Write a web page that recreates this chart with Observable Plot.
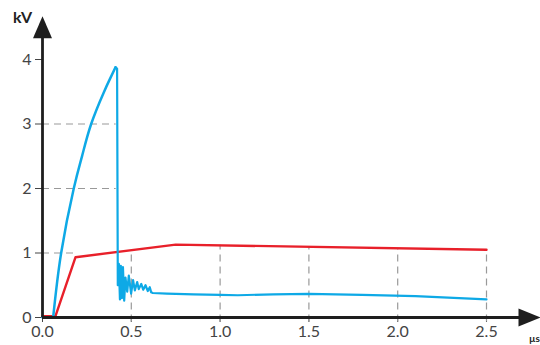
<!DOCTYPE html>
<html>
<head>
<meta charset="utf-8">
<script src="https://cdn.jsdelivr.net/npm/d3@7"></script>
<script src="https://cdn.jsdelivr.net/npm/@observablehq/plot@0.6"></script>
<style>
  html, body { margin: 0; padding: 0; background: #fff; }
</style>
</head>
<body>
<div id="chart"></div>
<script>
// Blue trace, flat start (kV vs µs)
const blueFlatX = [0, 0.06];
const blueFlatY = [0, 0];
// Blue trace, rising part
const blueRiseX = [0.06, 0.105, 0.176, 0.2235, 0.274, 0.345, 0.38, 0.411];
const blueRiseY = [0, 1.0, 2.0, 2.51, 3.0, 3.49, 3.7, 3.88];
// Blue trace, drop, ringing and tail
const blueTailX = [0.411, 0.42, 0.424, 0.43, 0.436, 0.441, 0.447, 0.453, 0.46, 0.467, 0.477, 0.486, 0.499, 0.51, 0.52, 0.533, 0.542, 0.556, 0.567, 0.58, 0.593, 0.604, 0.612, 0.621, 0.7, 0.85, 1.0, 1.1, 1.3, 1.5, 1.8, 2.1, 2.5];
const blueTailY = [3.88, 3.86, 0.5, 0.83, 0.28, 0.8, 0.3, 0.78, 0.26, 0.62, 0.4, 0.65, 0.37, 0.58, 0.42, 0.55, 0.44, 0.52, 0.43, 0.5, 0.41, 0.47, 0.39, 0.38, 0.37, 0.36, 0.35, 0.345, 0.36, 0.365, 0.35, 0.33, 0.28];
// Red trace
const redX = [0, 0.073, 0.186, 0.75, 2.5];
const redY = [0.02, 0.02, 0.935, 1.13, 1.05];
// Ticks
const xTicks = [0, 0.5, 1.0, 1.5, 2.0, 2.5];
const yTicks = [0, 1, 2, 3, 4];
// Dashed guide lines
const hGridY = [1, 2, 3];
const hGridEnd = [0.19, 0.415, 0.415];
const vGridX = [0.5, 1.0, 1.5, 2.0, 2.5];
const vGridTop = [1.04, 1.12, 1.1, 1.07, 1.05];

const toRows = (xs, ys) => xs.map((x, i) => ({x, y: ys[i]}));
const blueFlat = toRows(blueFlatX, blueFlatY);
const blueRise = toRows(blueRiseX, blueRiseY);
const blueTail = toRows(blueTailX, blueTailY);
const red = toRows(redX, redY);
const hGrid = hGridY.map((y, i) => ({y, x2: hGridEnd[i]}));
const vGrid = vGridX.map((x, i) => ({x, y2: vGridTop[i]}));

const triUp = {draw(ctx) { ctx.moveTo(0, -11); ctx.lineTo(9.5, 11); ctx.lineTo(-9.5, 11); ctx.closePath(); }};
const triRight = {draw(ctx) { ctx.moveTo(11, 0); ctx.lineTo(-11, 9); ctx.lineTo(-11, -9); ctx.closePath(); }};

const axisColor = "#1e1e1e";
const blueColor = "#0ea9e6";
const chart = Plot.plot({
  width: 540,
  height: 345,
  marginLeft: 42,
  marginRight: 54,
  marginTop: 59,
  marginBottom: 28,
  style: {fontFamily: "Lato, 'DejaVu Sans', sans-serif", fontSize: "16px", color: "#444", background: "#fff"},
  x: {domain: [0, 2.5], ticks: xTicks, tickFormat: d3.format(".1f"), tickSize: 5, tickPadding: 3, label: null},
  y: {domain: [0, 4], ticks: yTicks, tickFormat: d3.format("d"), tickSize: 7, tickPadding: 4, label: null},
  marks: [
    Plot.ruleY(hGrid, {y: "y", x1: 0, x2: "x2", stroke: "#999", strokeWidth: 1.2, strokeDasharray: "7,5"}),
    Plot.ruleX(vGrid, {x: "x", y1: -0.07, y2: "y2", stroke: "#999", strokeWidth: 1.2, strokeDasharray: "7,5"}),
    Plot.line(red, {x: "x", y: "y", stroke: "#e8202a", strokeWidth: 2.4, strokeLinejoin: "round"}),
    Plot.line(blueFlat, {x: "x", y: "y", stroke: blueColor, strokeWidth: 2.4}),
    Plot.line(blueRise, {x: "x", y: "y", stroke: blueColor, strokeWidth: 2.5, curve: "natural"}),
    Plot.line(blueTail, {x: "x", y: "y", stroke: blueColor, strokeWidth: 2.2, strokeLinejoin: "round"}),
    Plot.ruleX([0], {y1: 0, y2: 4.5, stroke: axisColor, strokeWidth: 2.8}),
    Plot.ruleY([0], {x1: 0, x2: 2.72, stroke: axisColor, strokeWidth: 2.8}),
    Plot.dot([{x: 0, y: 4.5}], {x: "x", y: "y", symbol: triUp, fill: axisColor, stroke: "none", r: 10}),
    Plot.dot([{x: 2.742, y: 0}], {x: "x", y: "y", symbol: triRight, fill: axisColor, stroke: "none", r: 10}),
    Plot.text(["kV"], {x: 0, y: 4.64, dx: -20, text: d => d, fontWeight: "bold", fontSize: 16, fill: "#222"}),
    Plot.text(["µs"], {x: 2.5, y: 0, dx: 48, dy: 21, text: d => d, fontWeight: "bold", fontSize: 10, fill: "#222"})
  ]
});
document.getElementById("chart").appendChild(chart);
</script>
</body>
</html>
